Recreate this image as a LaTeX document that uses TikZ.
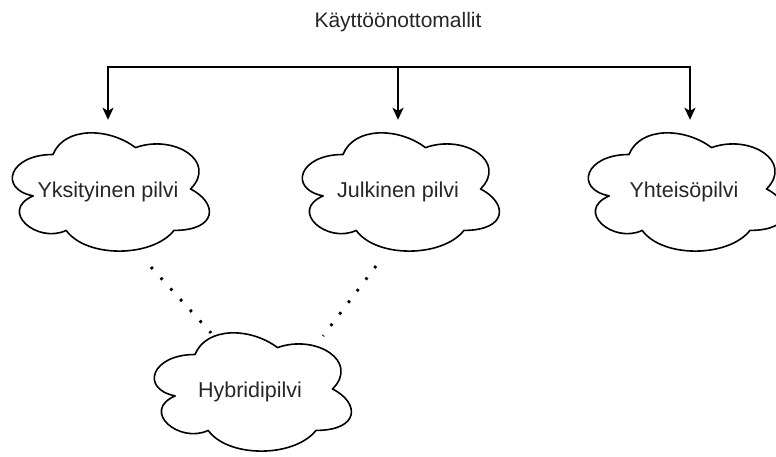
\documentclass[tikz,border=0pt]{standalone}
\usepackage{fontspec}
\setmainfont{Liberation Sans}
\usetikzlibrary{arrows.meta}

% cloud outline (220 x 138 box), drawn around a frame node and its label
\newcommand\cloudnode[4]{%
  \begin{scope}[shift={(#2-110,#3-69)}]
    \draw[cloudline] (55,34.5)
      .. controls (11,34.5) and (0,69) .. (35.2,75.9)
      .. controls (0,91.08) and (39.6,124.2) .. (68.2,110.4)
      .. controls (88,138) and (154,138) .. (176,110.4)
      .. controls (220,110.4) and (220,82.8) .. (192.5,69)
      .. controls (220,41.4) and (176,13.8) .. (137.5,27.6)
      .. controls (110,6.9) and (66,6.9) .. (55,34.5) -- cycle;
  \end{scope}
  \node[cloudbox] (#1) at (#2,#3) {};
  \node[cloudtext] (#1-text) at ([yshift=-2.5pt]#1.center) {#4};
}

\begin{document}
\begin{tikzpicture}[x=1pt,y=-1pt,
  cloudline/.style={draw=black, line width=1.6pt, fill=white, line join=round},
  cloudbox/.style={minimum width=220pt, minimum height=138pt, inner sep=0pt},
  cloudtext/.style={inner sep=0pt, text=black!85, font=\fontsize{21.5}{25}\selectfont},
  titlebox/.style={text=black!85, font=\fontsize{21}{25}\selectfont},
  arrowline/.style={draw=black, line width=1.5pt,
                    -{Stealth[length=12pt,width=11pt,inset=3pt]}},
  dotline/.style={draw=black, line width=2.8pt, dash pattern=on 2.6pt off 11.9pt}]
  \useasboundingbox (0,0) rectangle (776,457);

  \node[titlebox] (title) at (398,22) {Käyttöönottomallit};
  \coordinate (fork) at (398,67);

  \cloudnode{yks}{108}{189}{Yksityinen pilvi}
  \cloudnode{jul}{398}{189}{Julkinen pilvi}
  \cloudnode{yht}{684}{189}{Yhteisöpilvi}
  \cloudnode{hyb}{250}{389}{Hybridipilvi}

  % deployment tree
  \draw[arrowline] (fork) -| (yks.north);
  \draw[arrowline] (fork) -- (jul.north);
  \draw[arrowline] (fork) -| ([xshift=6pt]yht.north);

  % hybrid links
  \coordinate (l1) at (151,267);
  \coordinate (l2) at (211,333);
  \coordinate (r1) at (376,266);
  \coordinate (r2) at (323,336);
  \draw[dotline] (l1) -- (l2);
  \draw[dotline] (r1) -- (r2);
\end{tikzpicture}
\end{document}
